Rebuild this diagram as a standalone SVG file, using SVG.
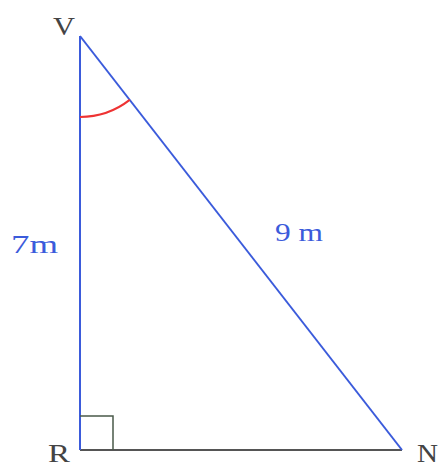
<svg xmlns="http://www.w3.org/2000/svg" width="440" height="468" viewBox="0 0 440 468">
<style>
.lbl{font-family:"Liberation Serif","DejaVu Serif",serif;font-size:25px;fill:#444}
.meas{font-family:"Liberation Serif","DejaVu Serif",serif;font-size:25px;fill:#3b5bdb}
.side{stroke:#3b5bdb;stroke-width:2;fill:none}
</style>
<rect width="440" height="468" fill="#fff"/>
<g id="connectors">
<line id="RN" x1="80" y1="450" x2="402" y2="450" stroke="#555" stroke-width="2"/>
<line id="VR" class="side" x1="80" y1="36" x2="80" y2="450"/>
<line id="VN" class="side" x1="80" y1="36" x2="402" y2="450"/>
<path id="rightangle" d="M80 416 H113 V450" fill="none" stroke="#4a5a4a" stroke-width="1.5"/>
<path id="angleV" d="M80 117 A81 81 0 0 0 129.7 99.9" fill="none" stroke="#ee3333" stroke-width="2"/>
</g>
<g id="V"><text class="lbl" x="53" y="35" textLength="22" lengthAdjust="spacingAndGlyphs">V</text></g>
<g id="R"><text class="lbl" x="48" y="462" textLength="22" lengthAdjust="spacingAndGlyphs">R</text></g>
<g id="N"><text class="lbl" x="417" y="462" textLength="21" lengthAdjust="spacingAndGlyphs">N</text></g>
<g id="side7"><text class="meas" x="11" y="253" textLength="47" lengthAdjust="spacingAndGlyphs">7m</text></g>
<g id="side9"><text class="meas" x="275" y="241" textLength="48" lengthAdjust="spacingAndGlyphs">9 m</text></g>
</svg>
